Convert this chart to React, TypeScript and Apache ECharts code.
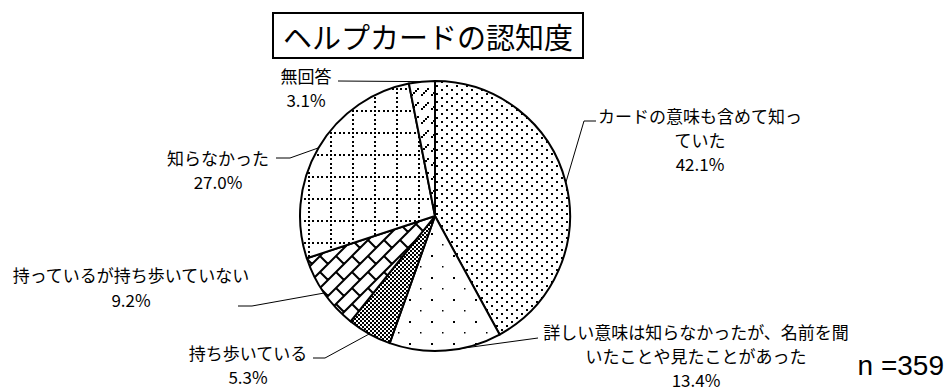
import React, { useEffect, useRef } from 'react';
import * as echarts from 'echarts';

// ---- data ----
const chartTitle = 'ヘルプカードの認知度';
const categories = [
  'カードの意味も含めて知っ\nていた',
  '詳しい意味は知らなかったが、名前を聞\nいたことや見たことがあった',
  '持ち歩いている',
  '持っているが持ち歩いていない',
  '知らなかった',
  '無回答',
];
const percents = [42.1, 13.4, 5.3, 9.2, 27.0, 3.1];
const sampleSize = 359;

// ---- label layout (center x, top y, line height) and leader-line elbows ----
const labelAnchors = [
  [700, 103, 24],
  [696, 319, 24],
  [248, 340, 24],
  [131, 262, 25],
  [218, 145, 24],
  [306, 63, 24],
];
const leaderElbows = [
  [[584, 121], [596, 121]],
  [[538, 338]],
  [[325, 358], [313, 358]],
  [[252, 306], [238, 306]],
  [[290, 158], [276, 158]],
  [[338, 81]],
];

const JP = "'Noto Sans CJK JP', 'Noto Sans', sans-serif";

function makePattern(w: number, h: number, draw: (ctx: CanvasRenderingContext2D) => void) {
  const c = document.createElement('canvas');
  c.width = w;
  c.height = h;
  const ctx = c.getContext('2d') as CanvasRenderingContext2D;
  ctx.fillStyle = '#fff';
  ctx.fillRect(0, 0, w, h);
  ctx.fillStyle = '#000';
  ctx.strokeStyle = '#000';
  draw(ctx);
  return { image: c.toDataURL(), repeat: 'repeat', imageWidth: w, imageHeight: h } as any;
}

function buildPatterns() {
  // dense staggered dots
  const p1 = makePattern(10, 8, (ctx) => {
    ctx.fillRect(1, 1, 2, 2);
    ctx.fillRect(6, 5, 2, 2);
  });
  // sparse staggered dots
  const p2 = makePattern(22, 22, (ctx) => {
    ctx.fillRect(2, 2, 1.5, 1.5);
    ctx.fillRect(13, 13, 2, 2);
  });
  // fine checker
  const p3 = makePattern(4, 4, (ctx) => {
    ctx.fillRect(0, 0, 2, 2);
    ctx.fillRect(2, 2, 2, 2);
  });
  // diagonal brick
  const T = 32;
  const p4 = makePattern(T, T, (ctx) => {
    const a = T / (2 * Math.SQRT2);
    const b = T / Math.SQRT2;
    const P = (u: number, v: number) => [(u + v) / Math.SQRT2, (u - v) / Math.SQRT2];
    ctx.lineWidth = 2;
    ctx.beginPath();
    for (let n = -4; n <= 8; n++) {
      const u = n * a;
      const s = P(u, -200);
      const e = P(u, 200);
      ctx.moveTo(s[0], s[1]);
      ctx.lineTo(e[0], e[1]);
      const off = ((n % 2) + 2) % 2 ? b / 2 : 0;
      for (let m = -8; m <= 8; m++) {
        const v = m * b + off;
        const s2 = P(u, v);
        const e2 = P(u + a, v);
        ctx.moveTo(s2[0], s2[1]);
        ctx.lineTo(e2[0], e2[1]);
      }
    }
    ctx.stroke();
  });
  // dotted grid
  const p5 = makePattern(22, 22, (ctx) => {
    const xs = [0, 4, 9, 13, 18];
    xs.forEach((x) => {
      ctx.fillRect(x, 0, 2, 2);
      ctx.fillRect(0, x, 2, 2);
    });
  });
  // dashed upward diagonal
  const p6 = makePattern(10, 14, (ctx) => {
    ctx.fillRect(1, 10, 2, 2);
    ctx.fillRect(3, 8, 2, 2);
    ctx.fillRect(5, 6, 2, 2);
    ctx.fillRect(7, 4, 2, 2);
  });
  return [p1, p2, p3, p4, p5, p6];
}

export default function App() {
  const ref = useRef<HTMLDivElement>(null);
  useEffect(() => {
    if (!ref.current) return;
    const chart = echarts.init(ref.current, null, { renderer: 'svg' });
    const patterns = buildPatterns();
    chart.setOption({
      animation: false,
      backgroundColor: '#fff',
      title: [
        {
          text: chartTitle,
          left: 273,
          top: 13,
          borderColor: '#000',
          borderWidth: 2,
          padding: [7, 10, 7, 10],
          textStyle: { fontSize: 29, fontWeight: 'normal', color: '#000', fontFamily: JP, lineHeight: 31 },
        },
        {
          text: `n =${sampleSize}`,
          right: 3,
          top: 351,
          padding: 0,
          textStyle: { fontSize: 28, fontWeight: 'normal', color: '#000', fontFamily: "'Liberation Sans', Arial, sans-serif" },
        },
      ],
      series: [
        {
          type: 'pie',
          center: [435, 216],
          radius: 135,
          startAngle: 90,
          clockwise: true,
          avoidLabelOverlap: false,
          silent: true,
          data: categories.map((c, i) => ({
            name: c,
            value: percents[i],
            itemStyle: { color: patterns[i] },
            label: { lineHeight: labelAnchors[i][2] },
          })),
          itemStyle: { borderColor: '#000', borderWidth: 2 },
          label: {
            show: true,
            position: 'outside',
            formatter: (p: any) => `${p.name}\n${Number(p.value).toFixed(1)}%`,
            color: '#000',
            fontSize: 17,
            lineHeight: 24,
            fontFamily: JP,
            align: 'center',
          },
          labelLine: { show: true, length: 10, length2: 10, smooth: false, lineStyle: { color: '#000', width: 1 } },
          labelLayout: (params: any) => {
            const i = params.dataIndex;
            const [x, y] = labelAnchors[i];
            const start = params.labelLinePoints ? params.labelLinePoints[0] : null;
            const res: any = { x, y, align: 'center', verticalAlign: 'top' };
            if (start) res.labelLinePoints = [start, ...leaderElbows[i]];
            return res;
          },
        },
      ],
    });
    return () => chart.dispose();
  }, []);
  return (
    <div
      ref={ref}
      style={{ position: 'fixed', left: 0, top: 0, width: 947, height: 391, background: '#fff' }}
    />
  );
}
